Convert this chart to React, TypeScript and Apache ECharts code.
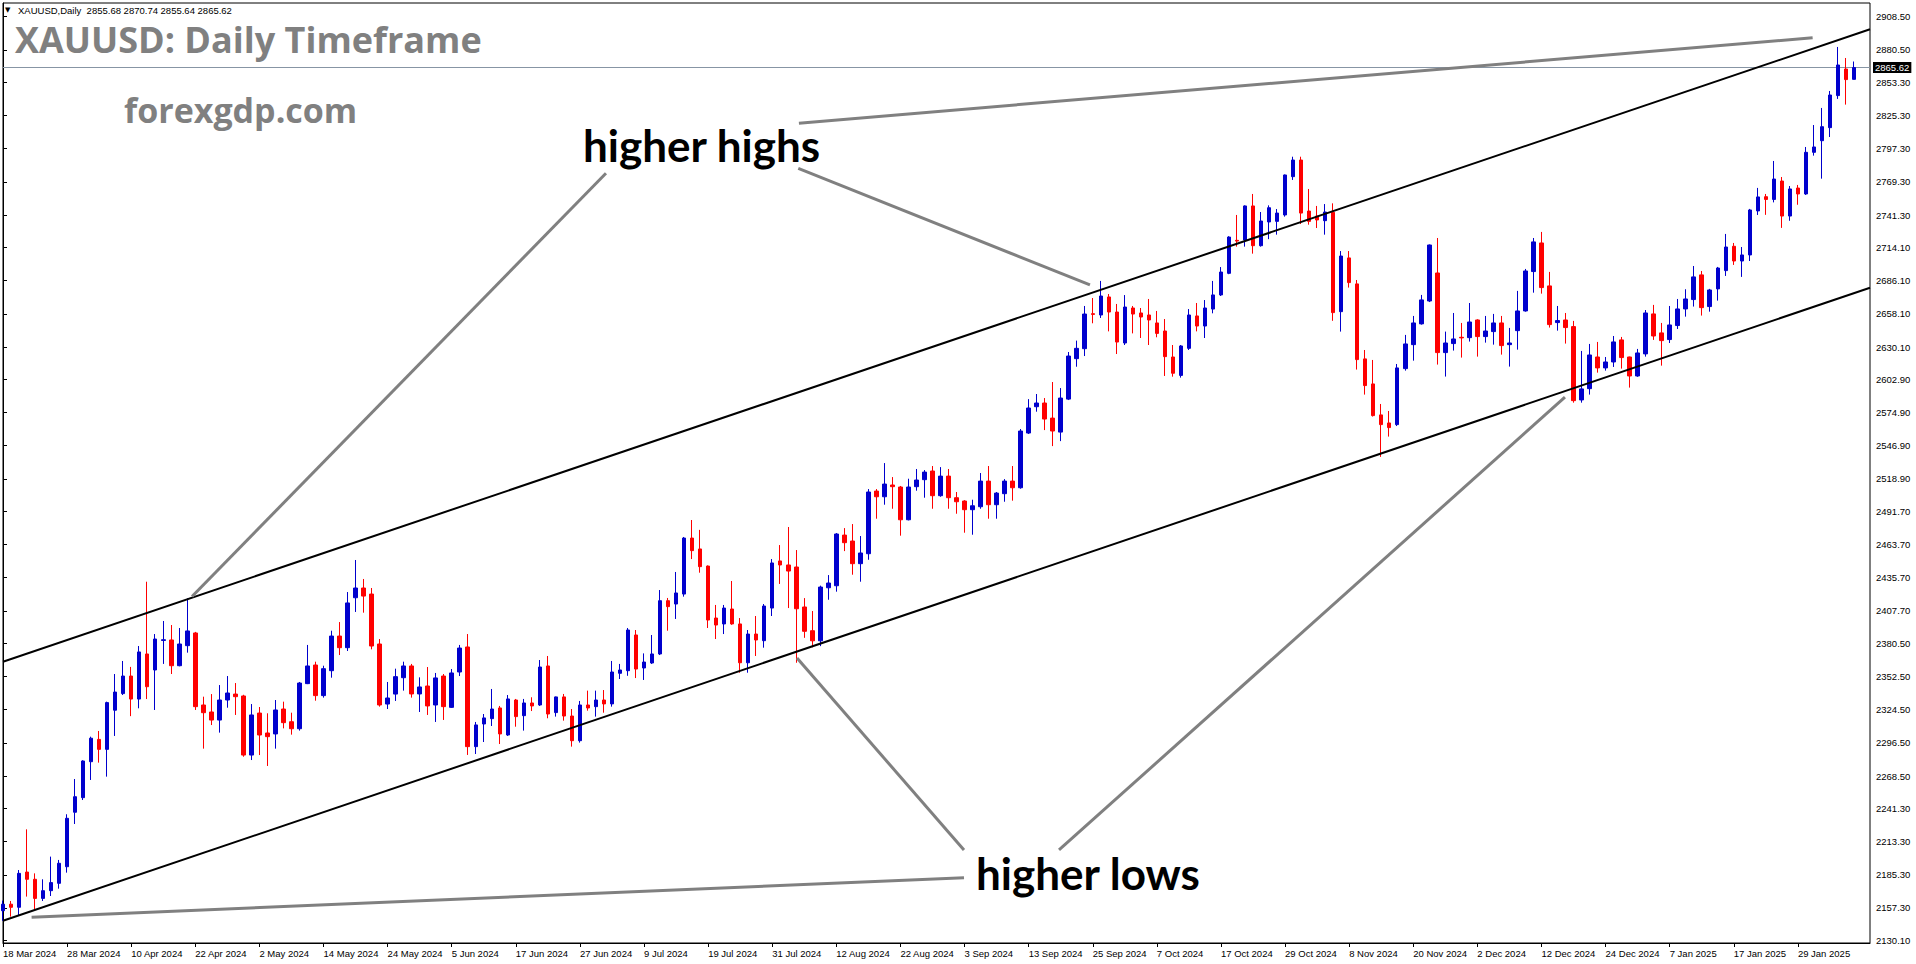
import React, { useEffect, useRef } from "react";
import * as echarts from "echarts";

// ---------- DATA ----------
const firstDay = "2024-03-18";
const dayCount = 234; // 232 candles + 2 empty slots at the right edge
const marketHolidays = ["2024-03-29", "2024-12-25", "2025-01-01"];
const monthNames = ["Jan", "Feb", "Mar", "Apr", "May", "Jun", "Jul", "Aug", "Sep", "Oct", "Nov", "Dec"];

// [open, high, low, close]
const candlesMarApr: number[][] = [
  [2155, 2163.5, 2146.5, 2160.5], [2160.5, 2163.2, 2150, 2157.9], [2157.9, 2189.3, 2151.4, 2186.5],
  [2187.6, 2223.6, 2166.9, 2181.5], [2181.5, 2186.5, 2156.2, 2165.4], [2165.4, 2181.5, 2163.2, 2171.9],
  [2171.9, 2200.6, 2167.4, 2178.7], [2178.1, 2197.8, 2173.6, 2195], [2192.1, 2236.3, 2187.1, 2232.9],
  [2238, 2266, 2228.1, 2251.1], [2250.3, 2281.8, 2248.3, 2281.2], [2280.6, 2301.7, 2265.2, 2300.4],
  [2299.4, 2306.5, 2279.8, 2291], [2291, 2331.2, 2268, 2330.4], [2324, 2354.5, 2302.3, 2339.3],
  [2338, 2365.5, 2336.8, 2352.8], [2352.8, 2360.5, 2319, 2333.4], [2333.4, 2378.1, 2325.6, 2373.1],
  [2371.4, 2432.3, 2333.4, 2343.8], [2357.9, 2388.2, 2324.2, 2384], [2382.8, 2399.2, 2363, 2383.4],
  [2383.2, 2395.8, 2354.5, 2361.5], [2361.5, 2393.3, 2361, 2379.8], [2378.4, 2418.3, 2372.5, 2390.8],
  [2389.1, 2390, 2324.2, 2327], [2328.4, 2335.4, 2291.6, 2321.9], [2322.5, 2337.6, 2311.5, 2315.7],
  [2315.7, 2345.2, 2305.1, 2332.6], [2332.6, 2352.8, 2326.1, 2338.5], [2337.6, 2346.9, 2320, 2335.4],
  [2336, 2337, 2284.8, 2286.2],
];
const candlesMayJun: number[][] = [
  [2286.2, 2329.2, 2282, 2320], [2321.6, 2326.7, 2286.2, 2303.1], [2304.8, 2321.4, 2277, 2301.7],
  [2304, 2332.6, 2291.6, 2324.2], [2325, 2331.2, 2308.7, 2313.5], [2314.3, 2321.9, 2303.4, 2308.4],
  [2308.4, 2347.8, 2306.8, 2346.9], [2346.4, 2379, 2346, 2361.3], [2362.1, 2364.9, 2332, 2336.3],
  [2336.3, 2361.5, 2334.6, 2359], [2357.3, 2391, 2351.4, 2386.5], [2386.5, 2398.3, 2370.5, 2376.7],
  [2376.7, 2423.6, 2373.9, 2414.4], [2418.8, 2450.6, 2406.8, 2427], [2427, 2434.6, 2406.2, 2420.2],
  [2421.9, 2427, 2375.3, 2378.1], [2379.8, 2384, 2327, 2328.4], [2329.2, 2347.8, 2325, 2334.3],
  [2337.6, 2359, 2331.8, 2352.3], [2351.4, 2364.9, 2340.5, 2361.3], [2361.3, 2363, 2334.6, 2337.7],
  [2337.7, 2351.7, 2322.5, 2343.6], [2344.4, 2360.4, 2320, 2327.6], [2328.4, 2355.4, 2314.1, 2351.2],
  [2352.8, 2354.5, 2315.8, 2327], [2326.4, 2358.7, 2325.9, 2355.4], [2356.2, 2379, 2352.8, 2376.4],
  [2377.3, 2388.2, 2286.3, 2293.3], [2293.3, 2314.1, 2287.1, 2311.6], [2312.4, 2320.8, 2297.2, 2317.5],
  [2316.9, 2341.9, 2310.7, 2325], [2325.9, 2327.6, 2295.5, 2304], [2303.1, 2336.8, 2302.3, 2333.5],
  [2332.6, 2333.5, 2310.1, 2318.6], [2319.4, 2333.5, 2306.8, 2330.1], [2330.1, 2334.9, 2323.3, 2327.6],
  [2328.4, 2366.3, 2327.6, 2360.4], [2361.3, 2369.7, 2317.2, 2320.8], [2322, 2335.5, 2318.6, 2335.2],
  [2335.2, 2337.7, 2315.2, 2319.1], [2319.1, 2325, 2293.3, 2298.3], [2298.3, 2331.8, 2296.7, 2328.4],
  [2328.4, 2340.5, 2323.6, 2325.9],
];
const candlesJulAug: number[][] = [
  [2327, 2340.5, 2318.6, 2332.6], [2332.6, 2341, 2321.9, 2329.3], [2329.3, 2365.5, 2327, 2356.2],
  [2355.1, 2363, 2350.3, 2357.9], [2357.3, 2393.3, 2353, 2391.6], [2387.4, 2391.6, 2351.1, 2358.7],
  [2359.6, 2371.9, 2349.5, 2364.6], [2363.8, 2387.4, 2363, 2371.4], [2371.4, 2425.3, 2370.5, 2416.3],
  [2416.3, 2418.6, 2391, 2411.3], [2413.5, 2440.5, 2400.9, 2422.8], [2421.9, 2470, 2419.7, 2469.1],
  [2469.1, 2484.3, 2451.4, 2458.5], [2459.9, 2476, 2439.9, 2445], [2445.5, 2446, 2393.3, 2400],
  [2401.7, 2412.7, 2384, 2395.8], [2396.7, 2412.7, 2388.2, 2410.1], [2409.3, 2432.9, 2396, 2396.7],
  [2396.7, 2401.7, 2355.6, 2364], [2364, 2391.6, 2355.6, 2388.2], [2388.2, 2403.4, 2369.7, 2383.2],
  [2382.6, 2413.5, 2376.7, 2411.8], [2410.1, 2451.4, 2403.4, 2448.1], [2449.8, 2463.2, 2430.4, 2446.4],
  [2446.4, 2478.4, 2410.1, 2441.3], [2444.7, 2459, 2364, 2409.5], [2411, 2418.5, 2385, 2390.5],
  [2391, 2407.6, 2377, 2382.5], [2382.5, 2429, 2378, 2427.8], [2427.2, 2437.9, 2417.1, 2431.2],
  [2428.9, 2473.3, 2423.9, 2472.5], [2471.6, 2477.5, 2458.1, 2465.2], [2466.6, 2480.9, 2438.2, 2447.5],
  [2447.5, 2470.8, 2432.3, 2456.5], [2455.9, 2510.4, 2450.8, 2507.9], [2508.7, 2510.4, 2485.4, 2503.9],
  [2503.9, 2532.3, 2497.2, 2514.6], [2513.8, 2520.5, 2493.8, 2512.4], [2512.1, 2513, 2471.1, 2484.5],
  [2484.5, 2519.1, 2484, 2512.1], [2512.4, 2527.3, 2509, 2518], [2518.3, 2526.4, 2503.1, 2524.7],
  [2525.6, 2529.8, 2493.8, 2504.8], [2504.8, 2528.9, 2503.9, 2521.3], [2521.3, 2527.3, 2493.8, 2503.1],
];
const candlesSepOct: number[][] = [
  [2503.1, 2507.9, 2489.6, 2499.7], [2500.3, 2501, 2473.6, 2493], [2493, 2501.4, 2471.9, 2496.3],
  [2495.5, 2523.9, 2493.8, 2517.1], [2517.1, 2529.8, 2485.4, 2497.2], [2497.2, 2507.9, 2485.4, 2507],
  [2506.5, 2518.8, 2499.7, 2517.1], [2517.1, 2529.8, 2500.6, 2511.5], [2511.5, 2561, 2510.7, 2559.3],
  [2557.6, 2586.2, 2556.8, 2578.7], [2579.8, 2590.5, 2575.6, 2582.9], [2582.9, 2587.1, 2560.1, 2569.4],
  [2570.2, 2600.6, 2546.6, 2559.3], [2558.4, 2595.5, 2550.8, 2587.1], [2586.2, 2625.9, 2585.4, 2622.5],
  [2620.3, 2635.5, 2613.5, 2629], [2628.7, 2664.7, 2622.5, 2657.9], [2658.2, 2671.4, 2650.1, 2657.6],
  [2657.1, 2685.8, 2654.6, 2673.1], [2672.3, 2674.8, 2643.3, 2659.6], [2659.6, 2666.4, 2624.2, 2634.3],
  [2633.5, 2673.9, 2631.8, 2663.8], [2663, 2664.7, 2641.6, 2657.9], [2658.8, 2663, 2637.7, 2655.4],
  [2657.1, 2670.6, 2631.8, 2652.9], [2650.4, 2660.5, 2638.3, 2641.6], [2643.6, 2653.7, 2605.7, 2622],
  [2621.7, 2631.8, 2605.1, 2608], [2606.2, 2631.8, 2604.3, 2631], [2629, 2662.1, 2627.6, 2657.1],
  [2656.3, 2667.2, 2643.3, 2647.8], [2647.8, 2669.7, 2637.7, 2663], [2662.1, 2685.8, 2658.5, 2674],
  [2674, 2697.5, 2673.1, 2693.3], [2692.2, 2723.5, 2691.5, 2722.8], [2720, 2741.4, 2714.7, 2719.4],
  [2720.3, 2749.5, 2714.7, 2749], [2749, 2759.1, 2708.8, 2715.5], [2715.5, 2743.9, 2714.7, 2736.3],
  [2735.5, 2749.5, 2721, 2747.5], [2736, 2746.4, 2724.8, 2743], [2741.4, 2775.5, 2740, 2775.1],
  [2773.7, 2790.5, 2770.9, 2787.7], [2787.7, 2790.5, 2733.8, 2743],
];
const candlesNovDec: number[][] = [
  [2744.7, 2763.3, 2733.2, 2736], [2740.5, 2749, 2730.4, 2737.2], [2736.6, 2750.6, 2724.8, 2743.9],
  [2743.6, 2751.2, 2652.2, 2659.1], [2659.9, 2711, 2643.1, 2706.8], [2705.2, 2711, 2680.2, 2684.4],
  [2683.3, 2686.6, 2611.1, 2619.5], [2620.1, 2627.6, 2590, 2597.6], [2599, 2619.2, 2571.5, 2572.3],
  [2572.9, 2582.1, 2537.5, 2564.7], [2566.1, 2576.2, 2554.6, 2562.2], [2564.7, 2615.8, 2563.5, 2612.5],
  [2611.9, 2640.3, 2610.2, 2632.7], [2632.1, 2656.3, 2618.6, 2650.4], [2649.6, 2674, 2649, 2669.8],
  [2668.9, 2716.5, 2668, 2716.1], [2692.5, 2722, 2615.3, 2625.4], [2625.4, 2643.1, 2605.2, 2633.5],
  [2633, 2658.8, 2627.1, 2636.9], [2638.3, 2650.4, 2621.2, 2637.8], [2638, 2667.2, 2634.7, 2651.2],
  [2652.9, 2653.5, 2622, 2638.9], [2638.9, 2656.3, 2633.8, 2643.6], [2643.1, 2658, 2632.1, 2650.4],
  [2650.4, 2656.3, 2623.7, 2631.3], [2632.1, 2646.2, 2613.6, 2633.5], [2643.9, 2677.4, 2627.9, 2660.5],
  [2660.5, 2695.9, 2659.9, 2694.2], [2693.7, 2722, 2675.9, 2718.7], [2717.8, 2727.1, 2675.1, 2680.2],
  [2681.6, 2693.4, 2646.5, 2649], [2650.7, 2664.7, 2643.9, 2652.4], [2652.9, 2658.8, 2633, 2646.5],
  [2647.3, 2652.1, 2583.2, 2584.9], [2585.5, 2626.8, 2583.2, 2594.8], [2595, 2632.7, 2590, 2623.4],
  [2621.7, 2634.4, 2608.5, 2612.5], [2612.5, 2621.7, 2610.2, 2617.5], [2617.5, 2639.4, 2613.3, 2634.4],
  [2636.1, 2638.6, 2611.9, 2621.2], [2621.7, 2622, 2595.9, 2605.7], [2605.7, 2628.5, 2605, 2625.1],
];
const candlesJanFeb: number[][] = [
  [2624.3, 2661.3, 2622, 2658.8], [2658, 2665.6, 2636.1, 2639.4], [2642, 2650.4, 2614.4, 2635.5],
  [2636.4, 2664.7, 2633.5, 2648.7], [2648.2, 2670.6, 2645.3, 2662.2], [2662.2, 2678.8, 2655.7, 2670.6],
  [2670.1, 2698.4, 2664.2, 2689.2], [2690.9, 2694.2, 2656.6, 2663.3], [2664.2, 2679.1, 2659.9, 2678.2],
  [2679.1, 2697.6, 2669.2, 2696.7], [2694.5, 2725.4, 2690, 2714.4], [2715, 2717.8, 2699.3, 2702.6],
  [2702.6, 2714.4, 2689.2, 2707.7], [2707.7, 2746.5, 2702.6, 2745.6], [2744.8, 2764.2, 2741.4, 2756.6],
  [2756.8, 2759.1, 2741.5, 2754.5], [2754.5, 2786.9, 2752, 2771.7], [2770, 2773.4, 2730.5, 2740.5],
  [2740.5, 2765.8, 2736.5, 2763.3], [2764.1, 2766.7, 2750, 2759.1], [2759.1, 2798.7, 2758.3, 2794.2],
  [2794.2, 2817.2, 2791.4, 2798.7], [2804, 2831.6, 2772, 2815.8], [2815, 2845.9, 2807.1, 2842.5],
  [2842, 2883, 2839.2, 2867.8], [2864.4, 2873.7, 2834.4, 2855.5], [2855.68, 2870.74, 2855.64, 2865.62],
];

const priceTicks = [
  2908.5, 2880.5, 2853.3, 2825.3, 2797.3, 2769.3, 2741.3, 2714.1, 2686.1, 2658.1, 2630.1, 2602.9, 2574.9,
  2546.9, 2518.9, 2491.7, 2463.7, 2435.7, 2407.7, 2380.5, 2352.5, 2324.5, 2296.5, 2268.5, 2241.3, 2213.3,
  2185.3, 2157.3, 2130.1,
];
const priceMin = 2127.8;
const priceMax = 2920.05;
const labelEvery = 8;
const lastLabelIndex = 224;

// trend lines: [barIndex, price] pairs
const upperChannel = [[0, 2364.9], [233, 2897.9]];
const lowerChannel = [[0, 2146.5], [233, 2680.1]];
const pointerLines = [
  [[99.33, 2818.8], [225.84, 2890.7]],
  [[75.25, 2776.6], [23.59, 2419.8]],
  [[99.25, 2780.7], [135.65, 2682.4]],
  [[119.93, 2206.2], [99.09, 2368.0]],
  [[131.79, 2206.2], [194.93, 2587.8]],
  [[119.93, 2182.8], [3.57, 2149.5]],
];

const symbolName = "XAUUSD,Daily";
const headerText = "XAUUSD: Daily Timeframe";
const siteText = "forexgdp.com";
const highsText = "higher highs";
const lowsText = "higher lows";

// ---------- HELPERS ----------
function buildTradingDays(start: string, count: number, holidays: string[]): string[] {
  const out: string[] = [];
  const d = new Date(start + "T00:00:00Z");
  while (out.length < count) {
    const dow = d.getUTCDay();
    const iso = d.toISOString().slice(0, 10);
    if (dow !== 0 && dow !== 6 && holidays.indexOf(iso) < 0) {
      out.push(`${d.getUTCDate()} ${monthNames[d.getUTCMonth()]} ${d.getUTCFullYear()}`);
    }
    d.setUTCDate(d.getUTCDate() + 1);
  }
  return out;
}

const axisFont = "'Liberation Sans', Arial, sans-serif";
const axisFontSize = 9.5;

export default function App() {
  const ref = useRef<HTMLDivElement | null>(null);

  useEffect(() => {
    if (!ref.current) return;
    const chart = echarts.init(ref.current, undefined, { renderer: "svg" });

    const dates = buildTradingDays(firstDay, dayCount, marketHolidays);
    const candles = [
      ...candlesMarApr,
      ...candlesMayJun,
      ...candlesJulAug,
      ...candlesSepOct,
      ...candlesNovDec,
      ...candlesJanFeb,
    ];
    const last = candles[candles.length - 1];
    const showLabel = (i: number) => i % labelEvery === 0 && i <= lastLabelIndex;

    const lineSeries = (data: number[][], color: string, width: number) => ({
      type: "line",
      xAxisIndex: 1,
      yAxisIndex: 0,
      data,
      symbol: "none",
      silent: true,
      clip: true,
      lineStyle: { color, width },
      z: 3,
    });

    const headerLine = `${symbolName}  ${last[0].toFixed(2)} ${last[1].toFixed(2)} ${last[2].toFixed(2)} ${last[3].toFixed(2)}`;

    const option: any = {
      animation: false,
      backgroundColor: "#ffffff",
      grid: {
        left: 3,
        right: 46,
        top: 3,
        bottom: 21,
        show: true,
        borderColor: "#000",
        borderWidth: 1,
        backgroundColor: "#fff",
      },
      xAxis: [
        {
          type: "category",
          data: dates,
          boundaryGap: false,
          axisLine: { show: true, lineStyle: { color: "#000", width: 1 } },
          axisTick: { show: true, interval: (i: number) => showLabel(i), length: 4, lineStyle: { color: "#000" } },
          axisLabel: {
            interval: (i: number) => showLabel(i),
            align: "left",
            color: "#000",
            fontSize: axisFontSize,
            fontFamily: axisFont,
            margin: 5,
          },
          splitLine: { show: false },
        },
        { type: "value", min: 0, max: 233, show: false },
      ],
      yAxis: {
        type: "value",
        position: "right",
        min: priceMin,
        max: priceMax,
        axisLine: { show: true, lineStyle: { color: "#000", width: 1 } },
        axisTick: { show: true, customValues: priceTicks, length: 4, inside: false, lineStyle: { color: "#000" } },
        axisLabel: {
          customValues: priceTicks,
          formatter: (v: number) => v.toFixed(2),
          color: "#000",
          fontSize: axisFontSize,
          fontFamily: axisFont,
          margin: 6,
        },
        splitLine: { show: false },
      },
      series: [
        {
          type: "candlestick",
          xAxisIndex: 0,
          yAxisIndex: 0,
          data: candles.map((c) => [c[0], c[3], c[2], c[1]]),
          barWidth: 4,
          clip: true,
          itemStyle: {
            color: "#0000CD",
            color0: "#FF0000",
            borderColor: "#0000CD",
            borderColor0: "#FF0000",
            borderWidth: 1,
          },
          z: 2,
          markLine: {
            silent: true,
            symbol: ["none", "none"],
            data: [{ yAxis: last[3] }],
            lineStyle: { color: "#8795A4", width: 1, type: "solid" },
            label: {
              show: true,
              position: "end",
              formatter: () => last[3].toFixed(2),
              backgroundColor: "#000",
              color: "#fff",
              fontSize: axisFontSize,
              fontFamily: axisFont,
              padding: [1, 2, 0, 2],
              distance: 3,
            },
            z: 1,
          },
        },
        lineSeries(upperChannel, "#000000", 2),
        lineSeries(lowerChannel, "#000000", 2),
        ...pointerLines.map((seg) => lineSeries(seg, "#808080", 3)),
      ],
      graphic: [
        {
          type: "text",
          x: 5,
          y: 10,
          style: { text: "▼", fill: "#000", font: "7px 'DejaVu Sans'", align: "left", verticalAlign: "middle" },
        },
        {
          type: "text",
          x: 18,
          y: 10,
          style: { text: headerLine, fill: "#000", font: `${axisFontSize}px ${axisFont}`, align: "left", verticalAlign: "middle" },
        },
        {
          type: "text",
          x: 15,
          y: 39,
          style: { text: headerText, fill: "#808080", font: "bold 36px 'Open Sans'", align: "left", verticalAlign: "middle" },
        },
        {
          type: "text",
          x: 124,
          y: 110,
          style: { text: siteText, fill: "#808080", font: "bold 34px 'Open Sans'", align: "left", verticalAlign: "middle" },
        },
        {
          type: "text",
          x: 583,
          y: 145,
          style: { text: highsText, fill: "#000", font: "bold 44px Lato", align: "left", verticalAlign: "middle" },
        },
        {
          type: "text",
          x: 976,
          y: 873,
          style: { text: lowsText, fill: "#000", font: "bold 44px Lato", align: "left", verticalAlign: "middle" },
        },
      ],
    };

    chart.setOption(option);
    return () => chart.dispose();
  }, []);

  return (
    <div
      ref={ref}
      style={{ position: "fixed", left: 0, top: 0, width: 1916, height: 964, background: "#fff" }}
    />
  );
}
